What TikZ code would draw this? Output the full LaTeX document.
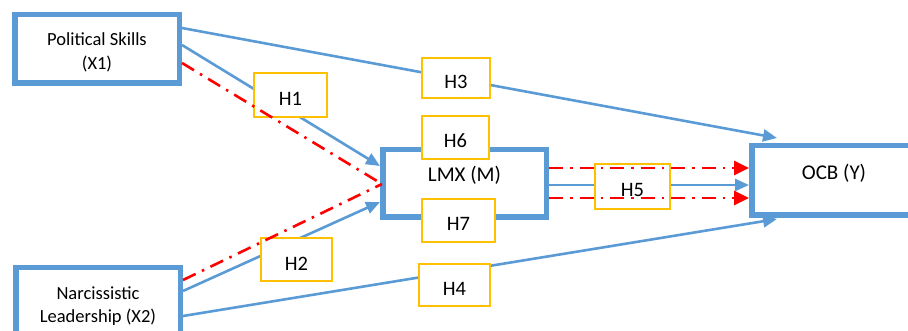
\documentclass[tikz,border=0pt]{standalone}
\usepackage{fontspec}
\setmainfont{Carlito}
\usetikzlibrary{arrows.meta}

\definecolor{ocblue}{HTML}{5B9BD5}
\definecolor{hyellow}{HTML}{FFC000}
\definecolor{medred}{HTML}{FF0000}

\tikzset{
  mainbox/.style={draw=ocblue, line width=5.5pt, fill=white, inner sep=0pt,
    minimum width=164.5pt, minimum height=68.5pt, align=center,
    font=\fontsize{21}{24}\selectfont},
  varbox/.style={mainbox, font=\fontsize{18.5}{24}\selectfont,
    text height=47pt, text depth=5pt},
  hbox/.style={draw=hyellow, line width=2.2pt, fill=white, inner sep=0pt,
    font=\fontsize{20.5}{24}\selectfont, text height=21pt, text depth=0pt},
  link/.style={draw=ocblue, line width=2.6pt},
  linkarrow/.style={link, -{Triangle[length=14pt,width=12pt]}},
  mediation/.style={draw=medred, line width=2.6pt,
    dash pattern=on 14pt off 7pt on 2.5pt off 7pt},
  medarrow/.style={mediation, -{Triangle[length=15pt,width=14pt]}},
}

\begin{document}
\begin{tikzpicture}[x=1pt, y=-1pt]
  \path[use as bounding box, clip] (0,0) rectangle (908,331);

  % variables
  \node[varbox] (x1) at (97,49) {Political Skills\\(X1)};
  \node[varbox] (x2) at (98,302) {Narcissistic\\Leadership (X2)};
  \node[mainbox, minimum width=163.5pt, minimum height=67.5pt,
        text height=12pt, text depth=15pt] (lmx) at (464.5,183.5) {LMX (M)};
  \node[mainbox, minimum height=69.5pt,
        text height=12pt, text depth=13pt] (ocb) at (834,180.5) {OCB (Y)};

  % direct paths
  \draw[linkarrow] ([yshift=21pt]x1.east) -- ([xshift=28pt,yshift=5pt]ocb.north west);
  \draw[linkarrow] ([yshift=4pt]x1.east) -- ([yshift=17.5pt]lmx.west);
  \draw[linkarrow] ([yshift=11pt]x2.east) -- ([yshift=-18.5pt]lmx.west);
  \draw[linkarrow] ([yshift=-14pt]x2.east) -- ([xshift=28pt,yshift=-1pt]ocb.south west);
  \draw[linkarrow] ([yshift=-1.5pt]lmx.east) -- ([yshift=-4.5pt]ocb.west);

  % hypotheses
  \node[hbox, minimum width=72.8pt, minimum height=43.8pt] (h1) at (290.5,95) {H1};
  \node[hbox, minimum width=67.8pt, minimum height=39.8pt] (h3) at (456,78) {H3};
  \node[hbox, minimum width=66.8pt, minimum height=42.8pt] (h6) at (455.5,137.5) {H6};
  \node[hbox, minimum width=72.8pt, minimum height=42.8pt] (h7) at (458.5,220.5) {H7};
  \node[hbox, minimum width=74.8pt, minimum height=44.8pt] (h5) at (632.5,186.5) {H5};
  \node[hbox, minimum width=70.8pt, minimum height=42.8pt] (h2) at (296.5,259.5) {H2};
  \node[hbox, minimum width=70.8pt, minimum height=41.8pt] (h4) at (454.5,285) {H4};

  % mediated paths
  \coordinate (meet) at ([xshift=2pt,yshift=-0.5pt]lmx.west);
  \draw[mediation] ([yshift=-14pt]x1.east) -- (meet);
  \draw[mediation] ([yshift=22pt]x2.east) -- (meet);
  \draw[medarrow] ([yshift=15.5pt]lmx.east) -- ([yshift=12.5pt]ocb.west);
  \draw[medarrow] ([yshift=-14.5pt]lmx.east) -- ([yshift=-17.5pt]ocb.west);
\end{tikzpicture}
\end{document}
